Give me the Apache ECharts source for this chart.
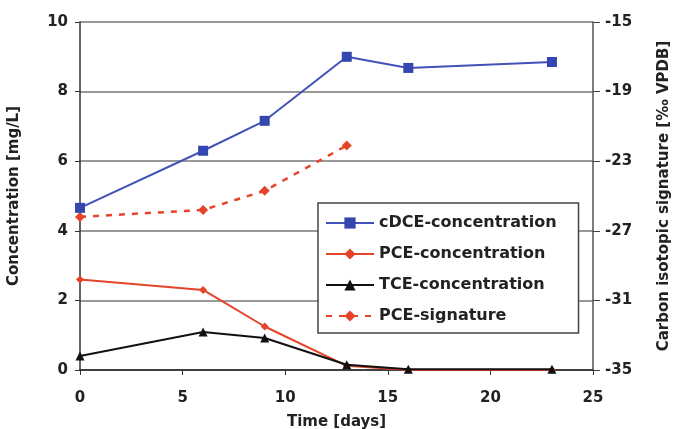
<!DOCTYPE html>
<html>
<head>
<meta charset="utf-8">
<script src="https://cdn.jsdelivr.net/npm/echarts@6/dist/echarts.min.js"></script>
<style>
  html, body { margin: 0; padding: 0; background: #fff; }
  #main { width: 674px; height: 429px; }
</style>
</head>
<body>
<div id="main"></div>
<script>
// time in days
var days = [0, 6, 9, 13, 16, 23];
var cdceConc = [4.66, 6.3, 7.16, 9.0, 8.68, 8.85];
var pceConc = [2.6, 2.3, 1.25, 0.12, 0.0, 0.0];
var tceConc = [0.4, 1.09, 0.92, 0.15, 0.02, 0.02];
var sigDays = [0, 6, 9, 13];
var pceSig = [-26.2, -25.8, -24.7, -22.1];
var rightTicks = [-35, -31, -27, -23, -19, -15];

function pairs(xs, ys) {
  var out = [];
  xs.forEach(function (x, i) { out.push([x, ys[i]]); });
  return out;
}

var font = 'DejaVu Sans';
var myChart = echarts.init(document.getElementById('main'));

var option = {
  animation: false,
  backgroundColor: '#fff',
  textStyle: { fontFamily: font },
  grid: { left: 80, right: 81, top: 22, bottom: 59, outerBoundsMode: 'none', containLabel: false },
  legend: {
    orient: 'vertical',
    left: 318,
    top: 203,
    padding: [12, 22, 9, 7],
    backgroundColor: '#fff',
    borderColor: '#444',
    borderWidth: 1.5,
    borderRadius: 0,
    itemWidth: 48,
    itemHeight: 14,
    itemGap: 15,
    textStyle: { fontFamily: font, fontSize: 16, fontWeight: 'bold', color: '#222' },
    data: ['cDCE-concentration', 'PCE-concentration', 'TCE-concentration', 'PCE-signature']
  },
  xAxis: {
    type: 'value',
    min: 0, max: 25, interval: 5,
    name: 'Time [days]',
    nameLocation: 'middle',
    nameGap: 45,
    nameTextStyle: { fontFamily: font, fontSize: 15, fontWeight: 'bold', color: '#222' },
    axisLine: { lineStyle: { color: '#222', width: 1.5 } },
    axisTick: { show: true, length: 5, lineStyle: { color: '#333' } },
    axisLabel: { fontSize: 15, fontWeight: 'bold', color: '#222', margin: 21 },
    splitLine: { show: false }
  },
  yAxis: [
    {
      type: 'value',
      min: 0, max: 10, interval: 2,
      name: 'Concentration [mg/L]',
      nameLocation: 'middle',
      nameGap: 58,
      nameTextStyle: { fontFamily: font, fontSize: 15, fontWeight: 'bold', color: '#222' },
      axisLine: { show: true, lineStyle: { color: '#333', width: 1.5 } },
      axisTick: { show: true, length: 5, lineStyle: { color: '#333' } },
      axisLabel: { fontSize: 15, fontWeight: 'bold', color: '#222', margin: 12 },
      splitLine: { show: true, lineStyle: { color: '#777', width: 1.5 } }
    },
    {
      type: 'value',
      position: 'right',
      min: -35, max: -15,
      name: 'Carbon isotopic signature [\u2030 VPDB]',
      nameLocation: 'middle',
      nameGap: 64,
      nameTextStyle: { fontFamily: font, fontSize: 15, fontWeight: 'bold', color: '#222' },
      axisLine: { show: true, lineStyle: { color: '#555', width: 1.5 } },
      axisTick: { show: true, length: 7, customValues: rightTicks, lineStyle: { color: '#444' } },
      axisLabel: { fontSize: 15, fontWeight: 'bold', color: '#222', margin: 12, customValues: rightTicks },
      splitLine: { show: false }
    }
  ],
  series: [
    {
      name: 'cDCE-concentration',
      type: 'line',
      data: pairs(days, cdceConc),
      symbol: 'rect',
      symbolSize: 10,
      itemStyle: { color: '#3446b0' },
      lineStyle: { color: '#4252b8', width: 2 },
      z: 4
    },
    {
      name: 'PCE-concentration',
      type: 'line',
      data: pairs(days, pceConc),
      symbol: 'diamond',
      symbolSize: 8,
      itemStyle: { color: '#e5432a' },
      lineStyle: { color: '#e5432a', width: 2 },
      z: 3
    },
    {
      name: 'TCE-concentration',
      type: 'line',
      data: pairs(days, tceConc),
      symbol: 'triangle',
      symbolSize: 9,
      itemStyle: { color: '#111' },
      lineStyle: { color: '#111', width: 2 },
      z: 5
    },
    {
      name: 'PCE-signature',
      type: 'line',
      yAxisIndex: 1,
      data: pairs(sigDays, pceSig),
      symbol: 'diamond',
      symbolSize: 10,
      itemStyle: { color: '#e5432a' },
      lineStyle: { color: '#e5432a', width: 2.5, type: [6, 7] },
      z: 3
    }
  ]
};
myChart.setOption(option);
</script>
</body>
</html>
